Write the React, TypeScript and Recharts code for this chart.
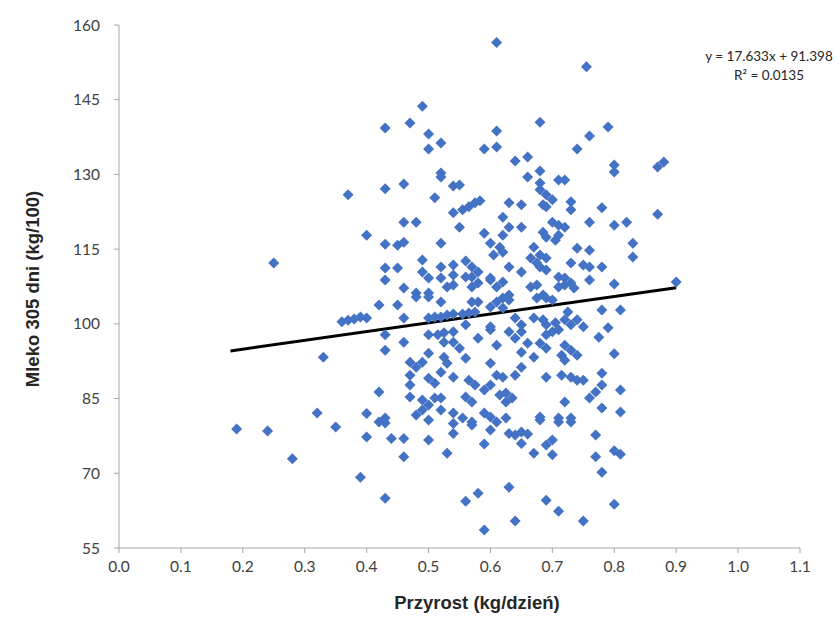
import { ScatterChart, Scatter, XAxis, YAxis, ReferenceLine } from "recharts";

// przyrost dzienny (kg/dzień) i mleko 305 dni (kg/100) – pary punktów
const przyrost = [
  0.19, 0.24, 0.25, 0.28, 0.32, 0.33, 0.35, 0.36, 0.37, 0.38,
  0.39, 0.37, 0.39, 0.4, 0.4, 0.4, 0.4, 0.49, 0.43, 0.47,
  0.5, 0.52, 0.5, 0.59, 0.52, 0.61, 0.755, 0.68, 0.61, 0.61,
  0.79, 0.76, 0.74, 0.64, 0.66, 0.68, 0.8, 0.87, 0.88, 0.8,
  0.87, 0.82, 0.8, 0.83, 0.83, 0.9, 0.8, 0.81, 0.8, 0.81,
  0.81, 0.8, 0.81, 0.8, 0.42, 0.43, 0.44, 0.46, 0.46, 0.5,
  0.53, 0.59, 0.54, 0.54, 0.57, 0.6, 0.43, 0.56, 0.58, 0.59,
  0.61, 0.63, 0.64, 0.65, 0.66, 0.65, 0.67, 0.69, 0.7, 0.7,
  0.68, 0.71, 0.73, 0.77, 0.77, 0.78, 0.63, 0.69, 0.71, 0.64,
  0.75, 0.43, 0.46, 0.52, 0.54, 0.55, 0.51, 0.54, 0.555, 0.565,
  0.575, 0.583, 0.46, 0.48, 0.55, 0.59, 0.43, 0.45, 0.46, 0.52,
  0.6, 0.49, 0.43, 0.45, 0.52, 0.54, 0.56, 0.57, 0.58, 0.57,
  0.56, 0.49, 0.5, 0.52, 0.54, 0.43, 0.46, 0.48, 0.5, 0.53,
  0.54, 0.57, 0.58, 0.6, 0.42, 0.45, 0.48, 0.5, 0.52, 0.57,
  0.58, 0.6, 0.46, 0.5, 0.51, 0.52, 0.53, 0.54, 0.555, 0.565,
  0.575, 0.43, 0.46, 0.5, 0.515, 0.525, 0.54, 0.525, 0.54, 0.56,
  0.58, 0.6, 0.43, 0.5, 0.55, 0.56, 0.47, 0.48, 0.49, 0.525,
  0.53, 0.52, 0.47, 0.5, 0.51, 0.54, 0.565, 0.575, 0.59, 0.6,
  0.47, 0.42, 0.47, 0.49, 0.5, 0.49, 0.51, 0.52, 0.56, 0.57,
  0.52, 0.43, 0.48, 0.5, 0.54, 0.555, 0.57, 0.59, 0.6, 0.66,
  0.68, 0.71, 0.72, 0.68, 0.69, 0.7, 0.685, 0.69, 0.63, 0.65,
  0.73, 0.73, 0.78, 0.62, 0.65, 0.63, 0.62, 0.7, 0.71, 0.72,
  0.685, 0.69, 0.705, 0.71, 0.76, 0.615, 0.67, 0.74, 0.76, 0.605,
  0.62, 0.665, 0.68, 0.69, 0.675, 0.73, 0.75, 0.76, 0.78, 0.63,
  0.65, 0.68, 0.69, 0.6, 0.62, 0.61, 0.665, 0.675, 0.71, 0.72,
  0.73, 0.72, 0.71, 0.735, 0.76, 0.63, 0.62, 0.685, 0.61, 0.63,
  0.62, 0.675, 0.69, 0.7, 0.725, 0.72, 0.78, 0.6, 0.64, 0.65,
  0.65, 0.64, 0.63, 0.67, 0.685, 0.69, 0.705, 0.71, 0.7, 0.69,
  0.73, 0.74, 0.75, 0.775, 0.79, 0.61, 0.66, 0.65, 0.68, 0.69,
  0.72, 0.73, 0.715, 0.74, 0.72, 0.67, 0.65, 0.6, 0.61, 0.62,
  0.64, 0.69, 0.715, 0.73, 0.74, 0.75, 0.78, 0.615, 0.625, 0.635,
  0.625, 0.78, 0.77, 0.76, 0.72, 0.78, 0.68, 0.71, 0.73, 0.625,
];

const mleko = [
  78.9, 78.5, 112.2, 72.9, 82.1, 93.3, 79.3, 100.4, 100.7, 101.0,
  101.4, 125.9, 69.2, 82.0, 77.3, 117.8, 101.2, 143.7, 139.3, 140.3,
  138.1, 136.3, 135.1, 135.1, 130.3, 156.5, 151.6, 140.5, 138.7, 135.5,
  139.5, 137.7, 135.1, 132.7, 133.5, 130.7, 131.9, 131.5, 132.5, 130.5,
  122.0, 120.4, 119.8, 116.2, 113.4, 108.4, 108.0, 102.8, 94.0, 86.7,
  82.3, 74.5, 73.8, 63.8, 80.3, 80.1, 77.0, 77.0, 73.3, 76.7,
  74.0, 75.9, 80.0, 78.0, 79.7, 78.7, 65.0, 64.4, 66.0, 58.6,
  80.3, 78.0, 77.7, 78.3, 77.9, 76.0, 74.0, 75.7, 76.7, 73.7,
  80.7, 80.3, 80.3, 77.7, 73.3, 70.2, 67.2, 64.6, 62.4, 60.4,
  60.4, 127.1, 128.1, 129.5, 127.7, 127.9, 125.3, 122.3, 122.9, 123.5,
  124.3, 124.7, 120.4, 120.4, 119.4, 118.2, 116.0, 115.8, 116.4, 116.2,
  116.2, 112.8, 111.2, 111.2, 111.4, 111.8, 112.6, 111.4, 110.4, 109.4,
  109.4, 110.4, 109.2, 109.2, 109.8, 108.8, 107.2, 106.2, 106.2, 107.4,
  107.8, 107.4, 108.2, 109.2, 103.8, 103.8, 105.4, 105.4, 104.4, 104.4,
  104.4, 103.4, 101.2, 101.2, 101.4, 101.4, 101.8, 102.0, 102.0, 102.2,
  102.4, 97.8, 96.3, 97.8, 97.8, 98.2, 98.4, 96.3, 96.3, 99.8,
  97.1, 98.8, 94.7, 94.1, 95.1, 93.1, 92.3, 91.3, 92.3, 93.3,
  92.1, 90.3, 89.7, 89.1, 88.1, 89.3, 88.7, 87.7, 86.7, 87.7,
  87.7, 86.3, 85.3, 84.7, 83.7, 82.7, 85.1, 85.1, 85.3, 84.3,
  82.7, 81.1, 81.7, 80.7, 82.1, 81.1, 80.3, 82.1, 81.3, 129.5,
  128.3, 128.9, 128.9, 126.9, 125.9, 124.9, 123.9, 123.5, 124.3, 123.9,
  124.5, 122.9, 123.3, 121.4, 119.4, 119.4, 117.8, 120.4, 119.8, 119.4,
  118.4, 117.4, 116.8, 117.8, 120.4, 115.4, 115.4, 115.2, 114.8, 113.8,
  114.4, 113.2, 113.8, 113.2, 112.2, 112.2, 111.8, 111.4, 111.4, 111.4,
  110.4, 111.4, 110.8, 108.8, 108.4, 107.4, 107.4, 107.8, 109.4, 109.2,
  108.2, 107.8, 107.4, 107.2, 108.8, 105.8, 105.2, 105.8, 104.4, 104.8,
  103.2, 105.2, 105.2, 104.8, 102.4, 100.8, 102.8, 99.4, 101.2, 99.8,
  98.4, 97.1, 98.4, 101.2, 100.8, 99.8, 100.2, 98.8, 98.4, 97.8,
  99.8, 100.8, 99.4, 97.3, 99.2, 95.7, 96.1, 94.3, 96.1, 95.1,
  95.7, 94.7, 93.7, 93.7, 92.7, 93.3, 91.3, 92.1, 89.7, 89.3,
  89.7, 89.3, 89.7, 89.3, 88.7, 88.7, 90.1, 85.7, 86.1, 85.1,
  84.3, 87.7, 86.3, 85.1, 84.3, 83.1, 81.3, 81.1, 81.1, 81.1,
];

const xTicks = [0, 0.1, 0.2, 0.3, 0.4, 0.5, 0.6, 0.7, 0.8, 0.9, 1.0, 1.1];
const yTicks = [55, 70, 85, 100, 115, 130, 145, 160];

// linia trendu z równania w wykresie
const trendSlope = 17.633;
const trendIntercept = 91.398;
const trendR2 = 0.0135;
const trendFrom = 0.18;
const trendTo = 0.9;

const data = przyrost.map((x, i) => ({ x, y: mleko[i] }));

const Diamond = (props: any) => {
  const { cx, cy } = props;
  const r = 5.5;
  return (
    <polygon
      points={`${cx},${cy - r} ${cx + r},${cy} ${cx},${cy + r} ${cx - r},${cy}`}
      fill="#4472C4"
    />
  );
};

export default function App() {
  const tickStyle = { fontSize: 15.5, fill: "#404040", fontFamily: "Lato, 'Liberation Sans', sans-serif" };
  const titleStyle = {
    position: "absolute" as const,
    whiteSpace: "nowrap" as const,
    fontFamily: "'Liberation Sans', Arial, sans-serif",
    fontWeight: "bold" as const,
    fontSize: 18.5,
    color: "#262626",
  };
  return (
    <div style={{ position: "absolute", left: 0, top: 0, width: 839, height: 641, background: "#fff" }}>
      <ScatterChart width={839} height={641} margin={{ top: 25, right: 39, bottom: 33, left: 0 }}>
        <XAxis
          type="number"
          dataKey="x"
          domain={[0, 1.1]}
          ticks={xTicks}
          tickFormatter={(v: number) => v.toFixed(1)}
          height={60}
          stroke="#a6a6a6"
          tick={tickStyle}
          tickSize={5}
          tickMargin={8}
          allowDataOverflow
        />
        <YAxis
          type="number"
          dataKey="y"
          domain={[55, 160]}
          ticks={yTicks}
          width={119}
          stroke="#a6a6a6"
          tick={tickStyle}
          tickSize={5}
          tickMargin={14}
          allowDataOverflow
        />
        <Scatter data={data} shape={Diamond} isAnimationActive={false} />
        <ReferenceLine
          segment={[
            { x: trendFrom, y: trendSlope * trendFrom + trendIntercept },
            { x: trendTo, y: trendSlope * trendTo + trendIntercept },
          ]}
          stroke="#000"
          strokeWidth={3}
        />
      </ScatterChart>
      <div style={{ ...titleStyle, left: 33, top: 289, transform: "translate(-50%, -50%) rotate(-90deg)" }}>
        Mleko 305 dni (kg/100)
      </div>
      <div style={{ ...titleStyle, left: 477, top: 603, transform: "translate(-50%, -50%)" }}>
        Przyrost (kg/dzień)
      </div>
      <div
        style={{
          position: "absolute",
          left: 769,
          top: 66,
          transform: "translate(-50%, -50%)",
          whiteSpace: "nowrap",
          textAlign: "center",
          fontFamily: "Lato, 'Liberation Sans', sans-serif",
          fontSize: 13.5,
          lineHeight: "19px",
          color: "#262626",
        }}
      >
        <div>y = {trendSlope}x + {trendIntercept}</div>
        <div>R² = {trendR2}</div>
      </div>
    </div>
  );
}
